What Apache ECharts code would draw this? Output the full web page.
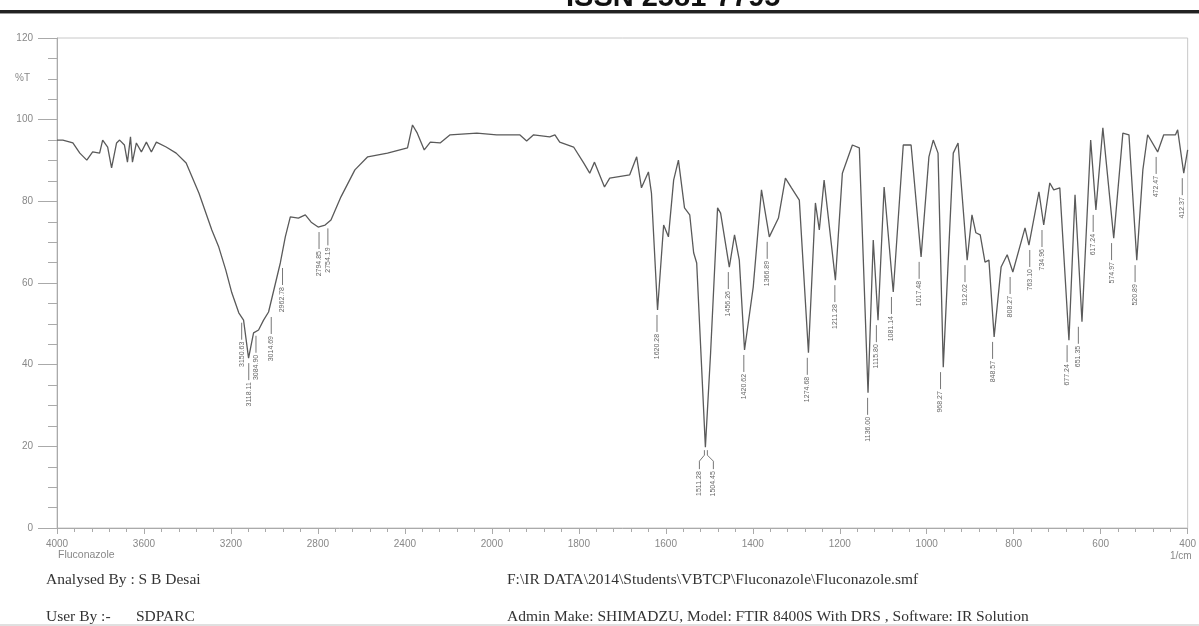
<!DOCTYPE html>
<html>
<head>
<meta charset="utf-8">
<title>Fluconazole FTIR</title>
<script src="https://cdn.jsdelivr.net/npm/echarts@6/dist/echarts.min.js"></script>
<style>
  html, body { margin: 0; padding: 0; background: #fff; }
  #chart { width: 1199px; height: 626px; }
</style>
</head>
<body>
<div id="chart"></div>
<script>
// Spectrum: wavenumber (1/cm) and %T
const spectrumWn = [
  4000, 3973, 3927, 3895, 3863, 3836, 3804, 3790, 3767, 3749,
  3726, 3712, 3690, 3676, 3662, 3653, 3635, 3612, 3589, 3566,
  3543, 3498, 3452, 3406, 3347, 3288, 3256, 3224, 3196, 3164,
  3142, 3119, 3096, 3073, 3050, 3027, 2995, 2973, 2950, 2927,
  2890, 2858, 2831, 2799, 2767, 2740, 2694, 2630, 2571, 2480,
  2388, 2365, 2343, 2311, 2283, 2238, 2192, 2069, 1989, 1936,
  1920, 1904, 1867, 1855, 1844, 1812, 1789, 1775, 1764, 1741,
  1729, 1683, 1667, 1656, 1640, 1633, 1619, 1605, 1594, 1582,
  1571, 1557, 1545, 1536, 1529, 1509, 1497, 1481, 1474, 1454,
  1442, 1431, 1419, 1399, 1380, 1362, 1341, 1325, 1311, 1293,
  1272, 1256, 1247, 1236, 1210, 1194, 1171, 1155, 1135, 1123,
  1112, 1098, 1077, 1054, 1036, 1013, 995, 985, 974, 962,
  939, 928, 907, 896, 887, 877, 866, 857, 845, 829,
  815, 802, 774, 765, 742, 731, 717, 708, 694, 673,
  659, 643, 623, 611, 595, 570, 549, 535, 517, 503,
  492, 469, 455, 428, 423, 409, 400,
];
const spectrumT = [
  95.0, 95.0, 94.3, 91.8, 90.1, 92.1, 91.8, 95.0, 93.3, 88.2,
  94.3, 95.0, 93.8, 89.6, 95.8, 89.6, 94.3, 92.1, 94.5, 92.1,
  94.5, 93.3, 91.8, 89.4, 82.0, 73.0, 68.8, 63.2, 57.6, 52.7,
  50.9, 41.6, 47.8, 48.5, 50.9, 52.9, 60.0, 64.9, 71.3, 76.2,
  75.9, 76.7, 74.9, 73.7, 74.2, 75.4, 81.1, 87.7, 90.9, 91.8,
  93.1, 98.7, 96.7, 92.6, 94.5, 94.3, 96.3, 96.7, 96.3, 96.3,
  94.8, 96.3, 95.8, 96.3, 94.5, 93.3, 89.4, 86.9, 89.6, 83.5,
  85.7, 86.5, 90.9, 83.3, 87.2, 82.0, 53.4, 74.2, 71.3, 85.2,
  90.1, 78.4, 76.7, 67.4, 64.9, 19.8, 42.9, 78.4, 77.1, 63.9,
  71.8, 65.6, 43.6, 59.0, 82.8, 71.3, 75.9, 85.7, 83.3, 80.3,
  42.9, 79.6, 73.0, 85.2, 60.7, 86.9, 93.8, 93.1, 33.1, 70.5,
  50.9, 83.5, 57.8, 93.8, 93.8, 66.4, 90.9, 95.0, 91.8, 39.4,
  91.8, 94.3, 65.6, 76.7, 72.3, 71.8, 65.1, 65.6, 46.8, 63.9,
  66.9, 62.7, 73.5, 69.3, 82.3, 74.2, 84.5, 82.8, 83.3, 46.0,
  81.6, 50.5, 95.0, 77.9, 98.0, 71.0, 96.7, 96.3, 65.6, 87.7,
  96.3, 92.1, 96.3, 96.3, 97.5, 86.9, 92.6,
];

// Peak picks (label value and %T where the marker starts)
const peakWn = [
  3150.63, 3118.11, 3084.9, 3014.69, 2962.78, 2794.85, 2754.19,
  1620.28, 1511.28, 1504.45, 1456.26, 1420.62, 1366.89, 1274.68,
  1211.28, 1136.0, 1115.8, 1081.14, 1017.48, 968.27, 912.02,
  848.57, 808.27, 763.1, 734.96, 677.24, 651.35, 617.24, 574.97,
  520.89, 472.47, 412.37,
];
const peakT = [
  51.5, 41.6, 48.3, 52.9, 64.9, 73.7, 74.6,
  53.4, 19.8, 19.8, 63.9, 43.6, 71.3, 42.9,
  60.7, 33.1, 50.9, 57.8, 66.4, 39.4, 65.6,
  46.8, 62.7, 69.3, 74.2, 46.0, 50.5, 77.9, 71.0,
  65.6, 92.1, 86.9,
];

// Ticks: below 2000 1/cm the scale is doubled
const xTickStep = 200;
const yTicks = [0, 20, 40, 60, 80, 100, 120];

const toAxis = (w) => (w > 2000 ? 2000 + (w - 2000) / 2 : w);
const fromAxis = (u) => (u > 2000 ? 2000 + (u - 2000) * 2 : u);

const lineData = spectrumWn.map((w, i) => [toAxis(w), spectrumT[i]]);
const peakData = peakWn.map((w, i) => [toAxis(w), peakT[i]]);

const labelFont = "Liberation Sans, Arial, sans-serif";
const serifFont = "Liberation Serif, Times New Roman, serif";

function renderPeak(params, api) {
  const i = params.dataIndex;
  const p = api.coord([api.value(0), api.value(1)]);
  const xAt = (k) => api.coord([toAxis(peakWn[k]), peakT[k]])[0];
  // split labels that would sit on top of each other
  let lx = p[0];
  if (i > 0 && p[0] - xAt(i - 1) < 5) lx = p[0] + 6;
  if (i < peakWn.length - 1 && xAt(i + 1) - p[0] < 5) lx = p[0] - 5;

  const y = p[1];
  const pts =
    lx === p[0]
      ? [[p[0], y + 5], [p[0], y + 22]]
      : [[p[0], y + 3], [p[0], y + 8], [lx, y + 14], [lx, y + 22]];

  return {
    type: "group",
    children: [
      {
        type: "polyline",
        shape: { points: pts },
        style: { stroke: "#777", lineWidth: 1, fill: null },
      },
      {
        type: "text",
        x: lx,
        y: y + 24,
        rotation: Math.PI / 2,
        style: {
          text: peakWn[i].toFixed(2),
          x: 0,
          y: 0,
          align: "right",
          verticalAlign: "middle",
          fontSize: 7,
          fontFamily: labelFont,
          fill: "#666",
        },
      },
    ],
  };
}

const chart = echarts.init(document.getElementById("chart"));

const option = {
  backgroundColor: "#fff",
  animation: false,
  grid: {
    left: 57,
    right: 7,
    top: 38,
    bottom: 98,
    show: true,
    borderColor: "#c8c8c8",
    borderWidth: 1,
  },
  xAxis: {
    type: "value",
    inverse: true,
    min: 400,
    max: 3000,
    interval: xTickStep,
    axisLine: { lineStyle: { color: "#aaa" } },
    axisTick: { length: 6, lineStyle: { color: "#aaa" } },
    minorTick: { show: true, splitNumber: 5, length: 4, lineStyle: { color: "#aaa" } },
    splitLine: { show: false },
    axisLabel: {
      margin: 11,
      fontSize: 10,
      color: "#888",
      fontFamily: labelFont,
      formatter: (v) => String(fromAxis(v)),
    },
  },
  yAxis: {
    type: "value",
    min: yTicks[0],
    max: yTicks[yTicks.length - 1],
    interval: yTicks[1] - yTicks[0],
    axisLine: { show: true, lineStyle: { color: "#aaa" } },
    axisTick: { show: true, length: 19, lineStyle: { color: "#aaa" } },
    minorTick: { show: true, splitNumber: 4, length: 9, lineStyle: { color: "#aaa" } },
    splitLine: { show: false },
    axisLabel: {
      margin: 24,
      fontSize: 10,
      color: "#888",
      fontFamily: labelFont,
    },
  },
  series: [
    {
      name: "Fluconazole",
      type: "line",
      data: lineData,
      showSymbol: false,
      smooth: false,
      lineStyle: { color: "#5a5a5a", width: 1.3 },
      z: 3,
    },
    {
      name: "Peaks",
      type: "custom",
      data: peakData,
      renderItem: renderPeak,
      z: 4,
    },
  ],
  graphic: [
    {
      type: "text",
      left: 566,
      top: -17,
      style: {
        text: "ISSN 2581-7795",
        font: "bold 29px " + labelFont,
        fill: "#111",
      },
    },
    {
      type: "rect",
      left: 0,
      top: 10,
      shape: { width: 1199, height: 3 },
      style: { fill: "#222" },
    },
    {
      type: "rect",
      left: 0,
      top: 13,
      shape: { width: 1199, height: 1 },
      style: { fill: "#999" },
    },
    {
      type: "text",
      left: 15,
      top: 73,
      style: { text: "%T", fontSize: 10, fontFamily: labelFont, fill: "#888" },
    },
    {
      type: "text",
      left: 58,
      top: 550,
      style: { text: "Fluconazole", fontSize: 10.5, fontFamily: labelFont, fill: "#888" },
    },
    {
      type: "text",
      left: 1170,
      top: 551,
      style: { text: "1/cm", fontSize: 10, fontFamily: labelFont, fill: "#888" },
    },
    {
      type: "text",
      left: 46,
      top: 572,
      style: { text: "Analysed By : S B Desai", fontSize: 15.5, fontFamily: serifFont, fill: "#333" },
    },
    {
      type: "text",
      left: 507,
      top: 572,
      style: {
        text: "F:\\IR DATA\\2014\\Students\\VBTCP\\Fluconazole\\Fluconazole.smf",
        fontSize: 15.5,
        fontFamily: serifFont,
        fill: "#333",
      },
    },
    {
      type: "text",
      left: 46,
      top: 609,
      style: { text: "User By :-", fontSize: 15.5, fontFamily: serifFont, fill: "#333" },
    },
    {
      type: "text",
      left: 136,
      top: 609,
      style: { text: "SDPARC", fontSize: 15.5, fontFamily: serifFont, fill: "#333" },
    },
    {
      type: "text",
      left: 507,
      top: 609,
      style: {
        text: "Admin Make: SHIMADZU, Model: FTIR 8400S With DRS , Software: IR Solution",
        fontSize: 15.5,
        fontFamily: serifFont,
        fill: "#333",
      },
    },
    {
      type: "rect",
      left: 0,
      top: 624,
      shape: { width: 1199, height: 2 },
      style: { fill: "#e0e0e0" },
    },
  ],
};

chart.setOption(option);
</script>
</body>
</html>
